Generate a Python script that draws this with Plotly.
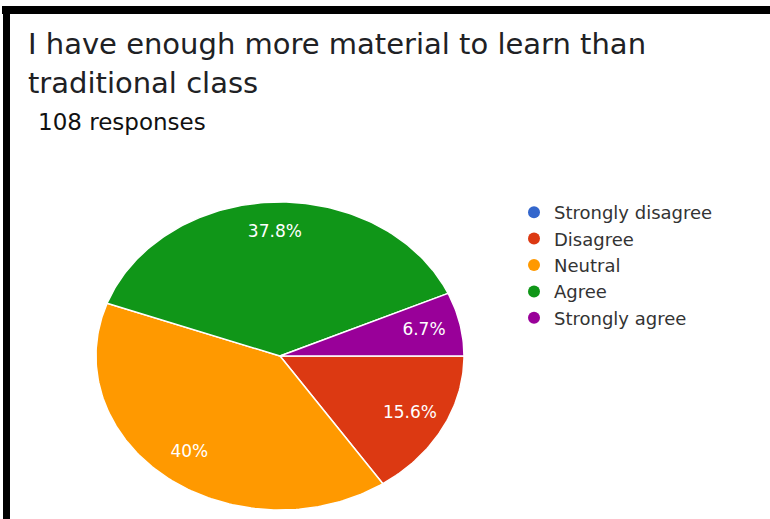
import math
import plotly.graph_objects as go

# ---- data ----
categories = ["Strongly disagree", "Disagree", "Neutral", "Agree", "Strongly agree"]
counts = [0, 7, 18, 17, 3]
colors = ["#3366cc", "#dc3912", "#ff9900", "#109618", "#990099"]
title_lines = ["I have enough more material to learn than", "traditional class"]
subtitle = "108 responses"

W, H = 770, 519
# pie geometry (pixel-space axes, the source image is horizontally stretched)
CX, CY, RX, RY = 280, 356, 184, 154
START_DEG = 90  # first slice starts at 3 o'clock, clockwise
LABEL_R = 0.8
FONT = "DejaVu Sans"

total = sum(counts)
fig = go.Figure()

def pt(theta_deg, r=1.0):
    t = math.radians(theta_deg)
    return CX + r * RX * math.sin(t), CY - r * RY * math.cos(t)

angle = START_DEG
lab_x, lab_y, lab_t = [], [], []
for cat, v, c in zip(categories, counts, colors):
    span = 360.0 * v / total
    if v > 0:
        n = max(int(span), 2)
        xs, ys = [CX], [CY]
        for i in range(n + 1):
            x, y = pt(angle + span * i / n)
            xs.append(x); ys.append(y)
        xs.append(CX); ys.append(CY)
        fig.add_trace(go.Scatter(x=xs, y=ys, mode="lines", fill="toself",
                                 fillcolor=c, line=dict(color="white", width=1.5),
                                 showlegend=False, hoverinfo="skip"))
        pct = round(100 * v / total, 1)
        txt = (f"{pct:.1f}".rstrip("0").rstrip(".")) + "%"
        lx, ly = pt(angle + span / 2, LABEL_R)
        lab_x.append(lx); lab_y.append(ly); lab_t.append(txt)
    angle += span

fig.add_trace(go.Scatter(x=lab_x, y=lab_y, text=lab_t, mode="text",
                         textfont=dict(color="white", size=17, family=FONT),
                         showlegend=False, hoverinfo="skip"))

# legend entries
for cat, c in zip(categories, colors):
    fig.add_trace(go.Scatter(x=[None], y=[None], mode="markers", name=cat,
                             marker=dict(color=c, size=18, symbol="circle")))

fig.update_layout(
    width=W, height=H,
    margin=dict(l=0, r=0, t=0, b=0),
    paper_bgcolor="white", plot_bgcolor="white",
    xaxis=dict(range=[0, W], visible=False, fixedrange=True),
    yaxis=dict(range=[H, 0], visible=False, fixedrange=True),
    showlegend=True,
    legend=dict(x=514 / W, y=1 - 194 / H, xanchor="left", yanchor="top",
                bgcolor="rgba(0,0,0,0)",
                font=dict(family=FONT, size=18, color="#333333"),
                itemsizing="constant"),
    shapes=[
        dict(type="rect", xref="x", yref="y", x0=2, x1=W, y0=6, y1=14,
             fillcolor="black", line=dict(width=0), layer="above"),
        dict(type="rect", xref="x", yref="y", x0=3, x1=10, y0=6, y1=H,
             fillcolor="black", line=dict(width=0), layer="above"),
    ],
    annotations=[
        dict(x=26, y=44, xref="x", yref="y", text=title_lines[0], showarrow=False,
             xanchor="left", yanchor="middle",
             font=dict(family=FONT, size=29, color="#202124")),
        dict(x=26, y=83, xref="x", yref="y", text=title_lines[1], showarrow=False,
             xanchor="left", yanchor="middle",
             font=dict(family=FONT, size=29, color="#202124")),
        dict(x=36, y=122, xref="x", yref="y", text=subtitle, showarrow=False,
             xanchor="left", yanchor="middle",
             font=dict(family=FONT, size=23, color="#111111")),
    ],
)

fig.write_html("out.html")
